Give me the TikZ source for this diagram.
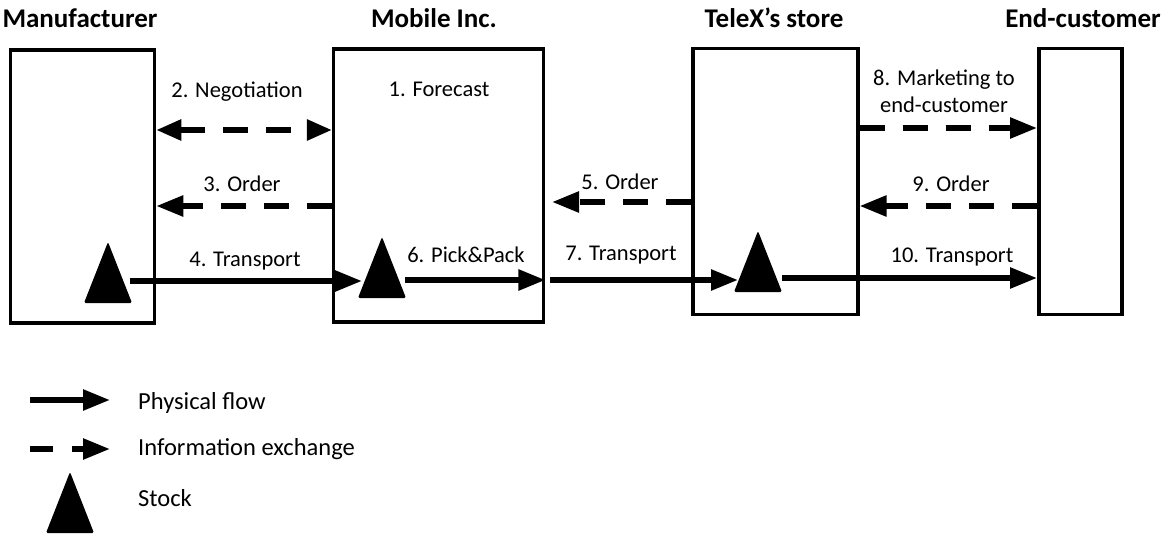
\documentclass[tikz,border=0pt]{standalone}
\usepackage{fontspec}
\setmainfont{Carlito}
\usetikzlibrary{arrows.meta}
\begin{document}
\begin{tikzpicture}[x=1pt,y=-1pt,
  box/.style={draw, line width=3.5pt, inner sep=0pt},
  title/.style={font=\fontsize{27pt}{32pt}\selectfont\bfseries, inner sep=0pt},
  lbl/.style={font=\fontsize{22.5pt}{27pt}\selectfont, inner sep=0pt, align=center},
  leg/.style={font=\fontsize{24.5pt}{29pt}\selectfont, inner sep=0pt, anchor=west},
  phys/.style={line width=5.5pt, -{Triangle[length=27pt,width=20pt]}},
  info/.style={phys, dash pattern=on 25pt off 18pt},
  stock/.pic={\fill[rounded corners=1.5pt] (-24,0) -- (0,-61) -- (24,0) -- cycle;}
]
\path[use as bounding box] (0,0) rectangle (1168,538);

% actors
\node[box, minimum width=144pt, minimum height=273pt] (man) at (82.5,186.3) {};
\node[box, minimum width=210pt, minimum height=273pt] (mob) at (438.7,185.3) {};
\node[box, minimum width=165pt, minimum height=266pt] (tel) at (775.3,181.7) {};
\node[box, minimum width=83pt,  minimum height=266pt] (end) at (1080.3,181.7) {};

\node[title] (tman) at (80,18) {Manufacturer};
\node[title] (tmob) at (434,18) {Mobile Inc.};
\node[title] (ttel) at (774,18) {TeleX’s store};
\node[title] (tend) at (1083,18) {End-customer};

% stock
\pic at (108,303) {stock};
\pic at (382,298) {stock};
\pic at (758,292) {stock};

% row heights
\coordinate (r1) at (0,130);
\coordinate (r2) at (0,206);
\coordinate (r3) at (0,281);
\coordinate (r5) at (0,202);
\coordinate (r7) at (0,280);
\coordinate (r8) at (0,128);
\coordinate (r10) at (0,278);

% free ends at the stock marks
\coordinate (s1) at (130,281);
\coordinate (s2in) at (362,281);
\coordinate (s2) at (405,280);
\coordinate (p7s) at (550,280);
\coordinate (s3in) at (738,280);
\coordinate (s3) at (782,278);
\coordinate (p5e) at (552,202);

% information flows
\draw[info, {Triangle[length=25pt,width=20pt]}-{Triangle[length=25pt,width=20pt]}] (man.east |- r1) -- (mob.west |- r1);
\draw[info] (mob.west |- r2) -- (man.east |- r2);
\draw[info] (tel.west |- r5) -- (p5e);
\draw[info] (tel.east |- r8) -- (end.west |- r8);
\draw[info] (end.west |- r2) -- (tel.east |- r2);

% physical flows
\draw[phys] (s1) -- (s2in);
\draw[phys] (s2) -- (mob.east |- r7);
\draw[phys] (p7s) -- (s3in);
\draw[phys] (s3) -- (end.west |- r10);

% labels
\node[lbl] (l1) at (439,89) {1. Forecast};
\node[lbl] (l2) at (237,92) {2. Negotiation};
\node[lbl] (l3) at (242,184) {3. Order};
\node[lbl] (l4) at (245,261) {4. Transport};
\node[lbl] (l5) at (620,182) {5. Order};
\node[lbl] (l6) at (466,255) {6. Pick\&Pack};
\node[lbl] (l7) at (621,255) {7. Transport};
\node[lbl] (l8) at (944,91.5) {8. Marketing to\\end-customer};
\node[lbl] (l9) at (951,184) {9. Order};
\node[lbl] (l10) at (952,257) {10. Transport};

% legend
\coordinate (k1a) at (30,400);
\coordinate (k1b) at (110,400);
\coordinate (k2a) at (30,449);
\coordinate (k2b) at (110,449);
\draw[phys] (k1a) -- (k1b);
\draw[phys, dash pattern=on 23pt off 19pt] (k2a) -- (k2b);
\pic at (70,533) {stock};
\node[leg] (kp) at (138,403) {Physical flow};
\node[leg] (ki) at (138,449) {Information exchange};
\node[leg] (ks) at (138,498) {Stock};
\end{tikzpicture}
\end{document}
